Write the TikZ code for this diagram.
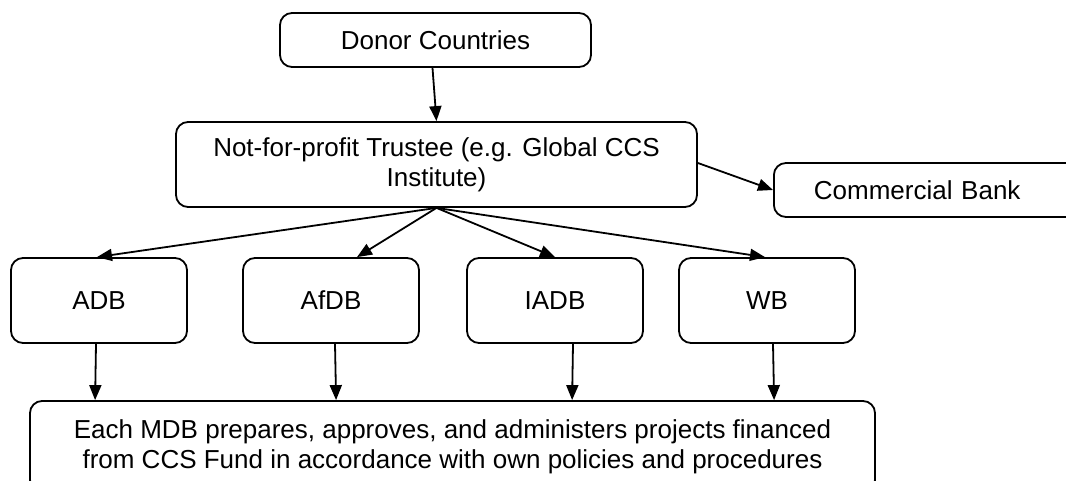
\documentclass[tikz,border=0pt]{standalone}
\usepackage{fontspec}
\setmainfont{Liberation Sans}
\usetikzlibrary{arrows.meta,calc}
\begin{document}
\begin{tikzpicture}[x=1pt,y=-1pt,
  box/.style={draw,line width=1.8pt,rounded corners=12pt,inner sep=0pt,
    align=center,font=\fontsize{26}{30}\selectfont},
  link/.style={line width=1.8pt,-{Triangle[length=15pt,width=12pt]}}]
\useasboundingbox (0,0) rectangle (1066,481);
\clip (0,0) rectangle (1066,481);

% top of the chain
\node[box,minimum width=311pt,minimum height=54pt] (donor) at (435.5,40) {Donor Countries};
\node[box,minimum width=521pt,minimum height=85pt] (trustee) at (436.5,164.5)
  {Not-for-profit Trustee (e.g. Global CCS\\Institute)};
\node[box,anchor=west,minimum height=54pt,text width=240pt,align=left,inner xsep=40pt]
  (bank) at (773,190) {Commercial Bank};

% the four development banks
\node[box,minimum width=176pt,minimum height=85pt] (adb)  at (99,300.5)  {ADB};
\node[box,minimum width=176pt,minimum height=85pt] (afdb) at (331,300.5) {AfDB};
\node[box,minimum width=176pt,minimum height=85pt] (iadb) at (555,300.5) {IADB};
\node[box,minimum width=176pt,minimum height=85pt] (wb)   at (767,300.5) {WB};

% common outcome
\node[box,minimum width=845pt,minimum height=91pt] (mdb) at (452.5,446.5)
  {Each MDB prepares, approves, and administers projects financed\\
   from CCS Fund in accordance with own policies and procedures};

% connectors
\draw[link] ($(donor.south)+(-3,0)$) -- (trustee.north);
\draw[link] ($(trustee.east)+(0,-1.5)$) -- (bank.west);
\draw[link] (trustee.south) -- ($(adb.north)+(-2,0)$);
\draw[link] (trustee.south) -- ($(afdb.north)+(26,0)$);
\draw[link] (trustee.south) -- (iadb.north);
\draw[link] (trustee.south) -- ($(wb.north)+(-2,0)$);
\draw[link] ($(adb.south)+(-3,0)$) -- ($(mdb.north west)+(66,0)$);
\draw[link] ($(afdb.south)+(4,0)$) -- ($(mdb.north west)+(307,0)$);
\draw[link] ($(iadb.south)+(18,0)$) -- ($(mdb.north west)+(543,0)$);
\draw[link] ($(wb.south)+(6,0)$) -- ($(mdb.north west)+(745,0)$);
\end{tikzpicture}
\end{document}
